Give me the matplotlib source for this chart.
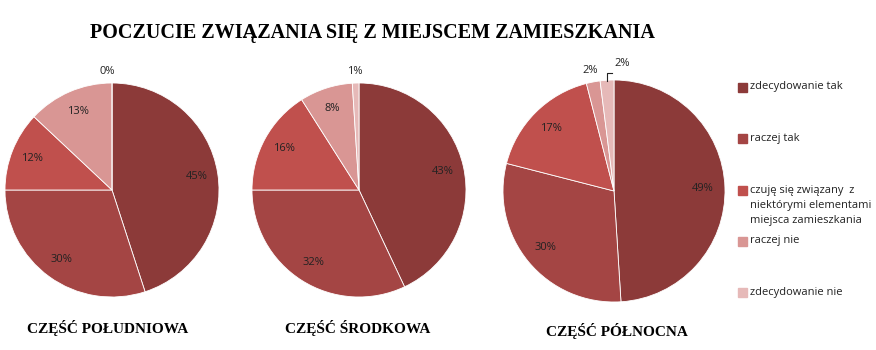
import matplotlib
matplotlib.use("Agg")
import matplotlib.pyplot as plt
from matplotlib.patches import Rectangle
import numpy as np

categories = ["zdecydowanie tak", "raczej tak",
              "czuję się związany  z\nniektórymi elementami\nmiejsca zamieszkania",
              "raczej nie", "zdecydowanie nie"]
regions = ["CZĘŚĆ POŁUDNIOWA", "CZĘŚĆ ŚRODKOWA", "CZĘŚĆ PÓŁNOCNA"]
south = [45, 30, 12, 13, 0]
middle = [43, 32, 16, 8, 1]
north = [49, 30, 17, 2, 2]
title = "POCZUCIE ZWIĄZANIA SIĘ Z MIEJSCEM ZAMIESZKANIA"

colors = ["#8c3a39", "#a44544", "#c0504d", "#d99694", "#e6b9b8"]

W, H = 876, 350
fig = plt.figure(figsize=(W / 100, H / 100), dpi=100)
fig.patch.set_facecolor("white")

serif = ["Liberation Serif", "DejaVu Serif"]
sans = ["Open Sans", "DejaVu Sans"]
txt = "#222222"

# pie boxes in pixels: (center x, center y, radius)
boxes = [(112, 190, 107), (359, 190, 107), (614, 191, 111)]
sub_pos = [(108, 328), (358, 328), (617, 331)]

for vals, (cx, cy, r), name, (sx, sy) in zip([south, middle, north], boxes, regions, sub_pos):
    ax = fig.add_axes([(cx - r) / W, 1 - (cy + r) / H, 2 * r / W, 2 * r / H])
    wedges, _ = ax.pie(vals, colors=colors, startangle=90, counterclock=False,
                       wedgeprops=dict(edgecolor="white", linewidth=0.6))
    ax.set_xlim(-1, 1)
    ax.set_ylim(-1, 1)
    ax.set_aspect("equal")
    ax.axis("off")
    small = [i for i, v in enumerate(vals) if v < 5]
    for i, (w, v) in enumerate(zip(wedges, vals)):
        ang = np.deg2rad((w.theta1 + w.theta2) / 2)
        if v >= 5:
            ax.text(0.8 * np.cos(ang), 0.8 * np.sin(ang), f"{v}%",
                    ha="center", va="center", fontsize=8, family=sans, color=txt)
        elif len(small) == 1:
            ax.text(-0.04, 1.11, f"{v}%", ha="center", va="center",
                    fontsize=8, family=sans, color=txt, clip_on=False)
        elif small.index(i) == 0:
            ax.text(-0.216, 1.09, f"{v}%", ha="center", va="center",
                    fontsize=8, family=sans, color=txt, clip_on=False)
        else:
            lx = np.cos(ang)
            ax.plot([lx, lx, -0.02], [0.99, 1.063, 1.063], color=txt,
                    lw=0.8, clip_on=False)
            ax.text(0.07, 1.145, f"{v}%", ha="center", va="center",
                    fontsize=8, family=sans, color=txt, clip_on=False)
    fig.text(sx / W, 1 - sy / H, name, ha="center", va="center",
             fontsize=11, fontweight="bold", family=serif)

fig.text(372 / W, 1 - 33 / H, title, ha="center", va="center",
         fontsize=14.5, fontweight="bold", family=serif)

# legend
leg_y = [87, 138, 190, 241, 292]
for c, lab, y in zip(colors, categories, leg_y):
    fig.patches.append(Rectangle((738 / W, 1 - (y + 4.5) / H), 9 / W, 9 / H,
                                 transform=fig.transFigure, color=c))
    fig.text(750 / W, 1 - (y - 5.5) / H, lab, ha="left", va="top", fontsize=8,
             family=sans, color=txt, linespacing=1.55)

fig.savefig("out.png", dpi=100)
